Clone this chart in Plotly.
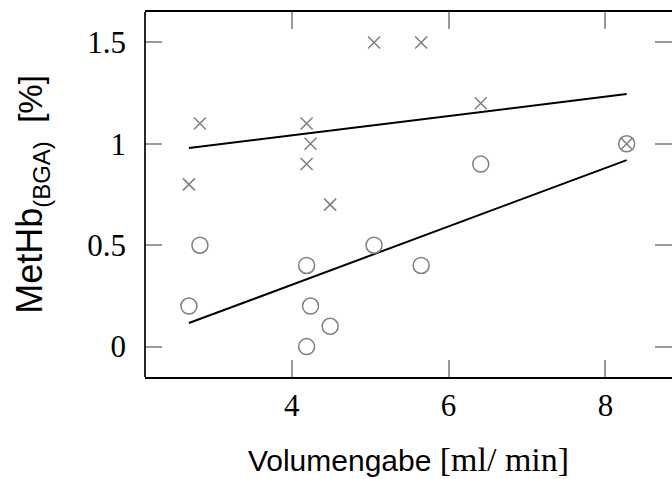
import numpy as np
import plotly.graph_objects as go

# Data
volumen = [2.69, 2.83, 4.19, 4.19, 4.24, 4.49, 5.05, 5.65, 6.41, 8.27]
methb_x = [0.8, 1.1, 1.1, 0.9, 1.0, 0.7, 1.5, 1.5, 1.2, 1.0]   # cross markers
methb_o = [0.2, 0.5, 0.4, 0.0, 0.2, 0.1, 0.5, 0.4, 0.9, 1.0]   # circle markers
x_ticks = [4, 6, 8]
y_ticks = [0, 0.5, 1, 1.5]
y_tick_labels = ["0", "0.5", "1", "1.5"]

GREY = "#7f7f7f"
SERIF = "Liberation Serif"
SANS = "Liberation Sans"

fig = go.Figure()

def fit_line(xs, ys):
    k, d = np.polyfit(xs, ys, 1)
    xe = [min(xs), max(xs)]
    return xe, [k * v + d for v in xe]

for ys in (methb_x, methb_o):
    lx, ly = fit_line(volumen, ys)
    fig.add_trace(go.Scatter(x=lx, y=ly, mode="lines",
                             line=dict(color="black", width=2), showlegend=False))

fig.add_trace(go.Scatter(x=volumen, y=methb_x, mode="markers",
                         marker=dict(symbol="x-thin-open", size=12,
                                     line=dict(color=GREY, width=1.5), color=GREY),
                         showlegend=False))
fig.add_trace(go.Scatter(x=volumen, y=methb_o, mode="markers",
                         marker=dict(symbol="circle-open", size=16,
                                     line=dict(color=GREY, width=1.5), color=GREY),
                         showlegend=False))

axis_common = dict(showgrid=False, zeroline=False, mirror="ticks", ticks="inside", ticklen=17,
                   tickcolor="#9a9a9a", tickwidth=1.6,
                   tickfont=dict(family=SERIF, size=31, color="black"))

fig.update_xaxes(range=[2.13, 8.848], tickvals=x_ticks,
                 ticktext=[str(v) for v in x_ticks],
                 showline=True, linecolor="black", linewidth=1.7,
                 title=dict(text="Volumengabe <span style='font-family:Liberation Serif;font-size:34px'>[ml/ min]</span>",
                            font=dict(family=SANS, size=30, color="black"), standoff=28),
                 **axis_common)
fig.update_yaxes(range=[-0.15, 1.65], tickvals=y_ticks, ticktext=y_tick_labels,
                 showline=False, ticklabelstandoff=18,
                 title=dict(text="MetHb<sub><span style='font-size:24px'>(BGA)</span></sub><span style='font-size:33px'>  [%]</span>",
                            font=dict(family=SANS, size=36, color="black"), standoff=33),
                 **axis_common)

# left frame edge (the right edge lies just outside the picture)
fig.add_shape(type="line", xref="paper", yref="paper", x0=0, x1=0, y0=0, y1=1,
              line=dict(color="black", width=1.7))

fig.update_layout(width=672, height=479, margin=dict(l=145, r=0, t=12, b=102),
                  plot_bgcolor="white", paper_bgcolor="white")

fig.write_html("out.html")
